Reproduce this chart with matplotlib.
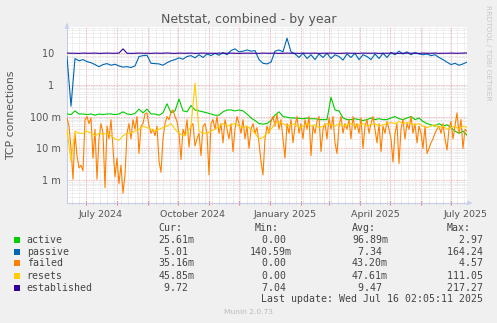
import numpy as np
import matplotlib
matplotlib.use('Agg')
import matplotlib.pyplot as plt
import matplotlib.dates as mdates
from matplotlib.ticker import FixedLocator, LogLocator, FuncFormatter, NullFormatter
from matplotlib.transforms import ScaledTranslation
from matplotlib.patches import Rectangle

W, H = 497, 323
start = np.datetime64('2024-06-12')
end = np.datetime64('2025-07-17')

# samples every 4 days
active = [0.12, 0.115, 0.15, 0.12, 0.12, 0.115, 0.12, 0.11, 0.12, 0.115,
          0.12, 0.12, 0.115, 0.12, 0.14, 0.12, 0.115, 0.125, 0.17, 0.13,
          0.17, 0.12, 0.12, 0.11, 0.13, 0.25, 0.13, 0.15, 0.35, 0.15,
          0.14, 0.22, 0.16, 0.15, 0.14, 0.13, 0.12, 0.11, 0.11, 0.14,
          0.16, 0.16, 0.15, 0.16, 0.15, 0.12, 0.09, 0.075, 0.06, 0.058,
          0.06, 0.075, 0.11, 0.14, 0.10, 0.095, 0.09, 0.09, 0.088, 0.085,
          0.09, 0.085, 0.085, 0.08, 0.08, 0.08, 0.4, 0.16, 0.15, 0.09,
          0.08, 0.08, 0.085, 0.08, 0.075, 0.08, 0.09, 0.08, 0.085, 0.08,
          0.08, 0.09, 0.1, 0.085, 0.08, 0.09, 0.1, 0.08, 0.09, 0.07,
          0.06, 0.055, 0.05, 0.06, 0.05, 0.055, 0.045, 0.035, 0.03, 0.035,
          0.026]

passive = [7.5, 0.21, 6.5, 5.5, 6.0, 5.2, 4.8, 4.2, 3.6, 4.2,
           4.5, 4.0, 4.3, 3.8, 3.5, 3.6, 3.4, 3.8, 7.5, 8.0,
           8.2, 4.6, 4.5, 4.4, 4.0, 4.8, 5.5, 6.0, 6.8, 6.2,
           7.5, 8.0, 6.8, 8.5, 7.0, 9.0, 8.0, 9.5, 8.2, 10.0,
           8.5, 11.5, 13.0, 10.5, 11.0, 12.0, 11.0, 11.5, 6.0, 4.6,
           4.4, 5.0, 11.0, 12.0, 10.5, 28.0, 10.5, 9.0, 7.0, 9.5,
           6.5, 8.5, 6.0, 9.0, 7.0, 9.5, 6.5, 8.5, 7.5, 5.8,
           9.0, 7.0, 9.5, 6.0, 8.5, 7.5, 6.0, 9.0, 6.5, 9.5,
           7.0, 10.0, 8.5, 11.0, 9.0, 10.5, 8.5, 10.0, 9.0, 8.5,
           9.0, 8.0, 8.5, 7.0, 6.0, 5.0, 4.2, 4.6, 4.0, 4.4,
           5.0]

resets = [0.04, 0.004, 0.035, 0.03, 0.03, 0.035, 0.03, 0.025, 0.03, 0.028,
          0.03, 0.025, 0.02, 0.018, 0.025, 0.03, 0.03, 0.035, 0.04, 0.05,
          0.045, 0.04, 0.035, 0.04, 0.045, 0.05, 0.06, 0.04, 0.03, 0.025,
          0.03, 0.05, 1.1, 0.035, 0.03, 0.03, 0.035, 0.04, 0.05, 0.06,
          0.05, 0.055, 0.06, 0.05, 0.045, 0.05, 0.04, 0.03, 0.02, 0.022,
          0.03, 0.04, 0.06, 0.07, 0.06, 0.05, 0.055, 0.06, 0.045, 0.05,
          0.06, 0.05, 0.055, 0.045, 0.05, 0.06, 0.055, 0.05, 0.06, 0.05,
          0.055, 0.06, 0.05, 0.055, 0.06, 0.05, 0.055, 0.06, 0.05, 0.055,
          0.06, 0.065, 0.06, 0.07, 0.06, 0.065, 0.06, 0.055, 0.06, 0.05,
          0.045, 0.05, 0.055, 0.045, 0.05, 0.04, 0.045, 0.05, 0.04, 0.05,
          0.046]

established = [9.6, 9.5, 9.5, 9.4, 9.6, 9.5, 9.5, 9.6, 9.4, 9.5,
               9.6, 9.5, 9.5, 9.6, 13.0, 9.5, 9.4, 9.5, 9.6, 9.5,
               9.5, 9.4, 9.6, 9.5, 9.5, 9.7, 9.5, 9.4, 9.6, 9.5,
               9.5, 9.6, 9.4, 9.5, 9.6, 9.5, 9.5, 9.4, 9.6, 9.5,
               9.5, 9.6, 9.5, 9.4, 9.5, 9.6, 9.5, 9.5, 9.4, 9.6,
               9.5, 9.5, 9.6, 9.4, 9.5, 9.6, 9.5, 9.5, 9.4, 9.6,
               9.5, 9.5, 9.6, 9.4, 9.5, 9.5, 9.6, 9.5, 9.4, 9.5,
               9.6, 9.5, 9.5, 9.4, 9.6, 9.5, 9.5, 9.6, 9.4, 9.5,
               9.5, 9.6, 9.5, 9.4, 9.5, 9.6, 9.5, 9.5, 9.4, 9.6,
               9.5, 9.5, 9.6, 9.4, 9.5, 9.5, 9.6, 9.5, 9.5, 9.6,
               9.7]

# failed connections, every 2 days
failed = [0.09, 0.05, 0.01, 0.0011, 0.03, 0.006, 0.0025, 0.003, 0.002, 0.08,
          0.1, 0.06, 0.09, 0.005, 0.04, 0.0011, 0.02, 0.06, 0.03, 0.0006,
          0.05, 0.02, 0.08, 0.01, 0.0013, 0.005, 0.0008, 0.003, 0.0004, 0.0015,
          0.03, 0.06, 0.02, 0.08, 0.04, 0.1, 0.007, 0.05, 0.06, 0.12,
          0.13, 0.05, 0.03, 0.04, 0.025, 0.05, 0.004, 0.0018, 0.02, 0.06,
          0.1, 0.08, 0.14, 0.16, 0.1, 0.07, 0.03, 0.0045, 0.04, 0.025,
          0.08, 0.011, 0.05, 0.06, 0.012, 0.02, 0.03, 0.006, 0.05, 0.06,
          0.03, 0.0015, 0.06, 0.08, 0.04, 0.1, 0.03, 0.06, 0.015, 0.08,
          0.04, 0.02, 0.06, 0.008, 0.04, 0.1, 0.06, 0.03, 0.08, 0.02,
          0.05, 0.01, 0.04, 0.06, 0.03, 0.045, 0.015, 0.004, 0.0015, 0.02,
          0.05, 0.03, 0.07, 0.1, 0.05, 0.12, 0.04, 0.08, 0.02, 0.005,
          0.06, 0.03, 0.08, 0.015, 0.05, 0.1, 0.03, 0.06, 0.02, 0.08,
          0.04, 0.1, 0.006, 0.05, 0.03, 0.07, 0.1, 0.008, 0.04, 0.06,
          0.02, 0.09, 0.04, 0.1, 0.015, 0.007, 0.05, 0.1, 0.03, 0.06,
          0.04, 0.08, 0.02, 0.1, 0.04, 0.06, 0.03, 0.09, 0.01, 0.05,
          0.08, 0.03, 0.06, 0.1, 0.04, 0.015, 0.06, 0.008, 0.05, 0.03,
          0.07, 0.04, 0.02, 0.0038, 0.03, 0.06, 0.0034, 0.04, 0.08, 0.02,
          0.06, 0.04, 0.1, 0.03, 0.06, 0.015, 0.05, 0.03, 0.01, 0.05,
          0.007, 0.01, 0.015, 0.02, 0.03, 0.04, 0.05, 0.03, 0.06, 0.02,
          0.009, 0.04, 0.07, 0.02, 0.05, 0.13, 0.03, 0.08, 0.01, 0.04,
          0.035]

names = ['active', 'passive', 'failed', 'resets', 'established']
colors = ['#00CC00', '#0066B3', '#FF8000', '#FFCC00', '#330099']
cur = ['25.61m', '5.01', '35.16m', '45.85m', '9.72']
mins = ['0.00', '140.59m', '0.00', '0.00', '7.04']
avgs = ['96.89m', '7.34', '43.20m', '47.61m', '9.47']
maxs = ['2.97', '164.24', '4.57', '111.05', '217.27']


def dates(vals, step):
    return start + (np.arange(len(vals)) * step).astype('timedelta64[D]')


def fx(x):
    return x / W


def fy(y):
    return 1 - y / H


fig = plt.figure(figsize=(W / 100, H / 100), dpi=100, facecolor='#F0F0F0')
ax = fig.add_axes([fx(67), fy(203), 400 / W, 176 / H], facecolor='white')
ax.set_yscale('log')

series = [(active, 4), (passive, 4), (failed, 2), (resets, 4), (established, 4)]
for (vals, step), c in zip(series, colors):
    ax.plot(dates(vals, step), vals, color=c, lw=0.8, zorder=3)

ax.set_xlim(start, end)
ax.set_ylim(1.98e-4, 62.7)

# y grid: decades in red, 2..9 in grey
ax.yaxis.set_major_locator(FixedLocator([1e-3, 1e-2, 1e-1, 1, 10]))
ax.yaxis.set_major_formatter(FuncFormatter(
    lambda v, p: {1e-3: '1 m', 1e-2: '10 m', 1e-1: '100 m', 1: '1  ', 10: '10  '}.get(round(v, 3), '')))
ax.yaxis.set_minor_locator(LogLocator(base=10, subs=np.arange(2, 10), numticks=30))
ax.yaxis.set_minor_formatter(NullFormatter())

# x grid: months in red, weeks in grey
ax.xaxis.set_major_locator(mdates.MonthLocator())
ax.xaxis.set_minor_locator(mdates.WeekdayLocator(byweekday=mdates.MO))
ax.xaxis.set_major_formatter(FuncFormatter(
    lambda v, p: mdates.num2date(v).strftime('%B %Y') if mdates.num2date(v).month in (1, 4, 7, 10) else ''))

ax.grid(which='major', color='#EAA0A0', ls=(0, (1, 1)), lw=0.6, zorder=1)
ax.grid(which='minor', color='#D4D4D4', ls=(0, (1, 1)), lw=0.5, zorder=0)

ax.tick_params(axis='y', which='both', length=0, pad=4.5, labelsize=7, labelcolor='#555555')
ax.tick_params(axis='x', which='major', length=3, direction='inout', color='#E08080',
               pad=3.2, labelsize=6.8, labelcolor='#555555')
ax.tick_params(axis='x', which='minor', length=2, direction='inout', color='#C0C0C0')

offset = ScaledTranslation(0.15, 0, fig.dpi_scale_trans)
for lab in ax.get_xticklabels():
    lab.set_transform(lab.get_transform() + offset)

for s in ['top', 'right']:
    ax.spines[s].set_visible(False)
for s in ['left', 'bottom']:
    ax.spines[s].set_color('#C8CCE8')
    ax.spines[s].set_linewidth(0.8)
ax.annotate('', xy=(0, 1.035), xytext=(0, 1.0), xycoords='axes fraction',
            arrowprops=dict(arrowstyle='-|>', color='#C8D0F0', lw=0.8, mutation_scale=6))
ax.annotate('', xy=(1.013, 0), xytext=(1.0, 0), xycoords='axes fraction',
            arrowprops=dict(arrowstyle='-|>', color='#C8D0F0', lw=0.8, mutation_scale=6))

fig.text(fx(249), fy(19.3), 'Netstat, combined - by year', ha='center', va='center',
         fontsize=9, color='#555555')
fig.text(fx(10.7), fy(115), 'TCP connections', ha='center', va='center', rotation=90,
         fontsize=7.8, color='#555555')
fig.text(fx(488), fy(53), 'RRDTOOL / TOBI OETIKER', ha='center', va='center', rotation=270,
         fontsize=5.4, color='#C8C8C8')

# legend table
mono = dict(family='DejaVu Sans Mono', fontsize=7.1, color='#444444', va='center')
cw = 0.602 * 7.1 * 100 / 72
for x, hdr in zip([158, 255, 351.7, 446.7], ['Cur:', 'Min:', 'Avg:', 'Max:']):
    fig.text(fx(x), fy(227.7), hdr, ha='left', **mono)
field_end = [193.8, 291.8, 387.5, 488.5]
row_y = [240, 251.7, 263.3, 275.7, 287.7]
for i, name in enumerate(names):
    y = row_y[i]
    fig.patches.append(Rectangle((fx(14), fy(y + 3)), 6 / W, 6 / H, transform=fig.transFigure,
                                 facecolor=colors[i], edgecolor='none'))
    fig.text(fx(26.7), fy(y), name, ha='left', **mono)
    for col, vals in enumerate([cur, mins, avgs, maxs]):
        s = vals[i] if vals[i].endswith('m') else vals[i] + ' '
        fig.text(fx(field_end[col] - len(s) * cw), fy(y), s, ha='left', **mono)

fig.text(fx(483), fy(299.3), 'Last update: Wed Jul 16 02:05:11 2025', ha='right', **mono)
fig.text(fx(248), fy(312), 'Munin 2.0.73', ha='center', va='center', fontsize=5.4, color='#BBBBBB')

fig.savefig('out.png', dpi=100, facecolor=fig.get_facecolor())
